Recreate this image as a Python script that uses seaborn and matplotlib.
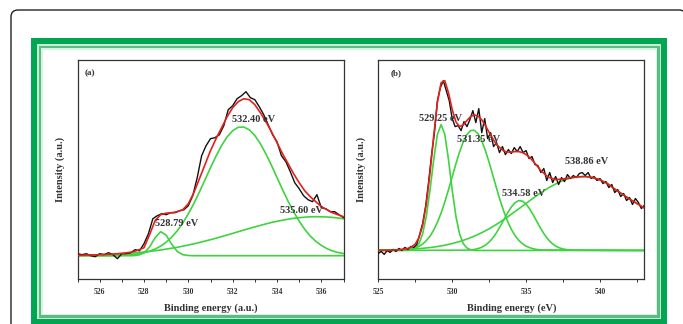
import numpy as np
import matplotlib
matplotlib.use("Agg")
import matplotlib.pyplot as plt
import seaborn as sns
from matplotlib.patches import Rectangle, FancyBboxPatch
from matplotlib.transforms import IdentityTransform
from matplotlib.ticker import MultipleLocator

# ---------------- panel (a) ----------------
a_energy = np.arange(525, 537.01, 0.25)
a_peak1 = [0, 0, 0, 0, 0, 0, 0, 0, 0, 0,
           0, 0.6, 2.8, 8.7, 17.9, 24.0, 20.6, 11.5, 4.2, 1.0, 0.2,
           0, 0, 0, 0, 0, 0, 0, 0, 0, 0, 0, 0, 0, 0,
           0, 0, 0, 0, 0, 0, 0, 0, 0, 0, 0, 0, 0, 0]
a_peak2 = [0, 0, 0, 0, 0, 0, 0, 0.2, 0.4, 0.7, 1.2, 1.9, 2.9, 4.5, 6.6, 9.6,
           13.5, 18.6, 24.9, 32.7, 41.9, 52.3, 63.7, 75.8, 88.0, 99.6, 110.1,
           118.8, 125.0, 128.4, 128.7, 125.9, 120.2, 112.0, 101.8, 90.4, 78.2,
           66.1, 54.5, 43.9, 34.5, 26.4, 19.7, 14.4, 10.3, 7.1, 4.8, 3.2, 2.1]
a_peak3 = [0.4, 0.5, 0.7, 0.8, 1.0, 1.2, 1.4, 1.7, 2.0, 2.3, 2.7, 3.2, 3.7,
           4.3, 5.0, 5.7, 6.6, 7.5, 8.4, 9.5, 10.7, 11.9, 13.2, 14.6, 16.0,
           17.5, 19.1, 20.7, 22.3, 24.0, 25.6, 27.2, 28.8, 30.3, 31.8, 33.2,
           34.4, 35.5, 36.5, 37.4, 38.0, 38.5, 38.9, 39.0, 38.9, 38.7, 38.3,
           37.7, 36.9]
a_fit = [0.4, 0.5, 0.7, 0.8, 1.0, 1.2, 1.4, 1.9, 2.4, 3.0, 3.9,
         5.7, 8, 21, 35, 41, 42.5, 43, 44, 46, 52, 63, 77, 91, 105, 117, 128,
         139, 148, 154, 157, 156, 151, 143, 134, 124, 113, 102, 92, 82, 73,
         65, 59, 54, 49, 46, 43, 41, 39]
a_data_energy = np.arange(525, 537.01, 0.2)
a_data = [2, 1, 2, 0, -1, 2, 1, 3, 1, -3,
          2, 2, 3, 6, 5, 12, 22, 37, 40, 42,
          41, 43, 43, 45, 46, 50, 60, 78, 100, 110,
          117, 118, 121, 130, 146, 150, 157, 160, 164, 158,
          156, 149, 141, 131, 121, 114, 100, 94, 84, 73,
          67, 60, 56, 54, 61, 48, 47, 44, 44, 41, 38]
a_labels = ["528.79 eV", "532.40 eV", "535.60 eV"]
a_label_pos = [(528.5, 32), (531.96, 136), (534.14, 45)]

# ---------------- panel (b) ----------------
b_data_energy = np.arange(525, 543.01, 0.2)
b_data = [-3, -1, -4, 0, -2, 1, -1, 2, 0, 3,
          1, 4, 3, 6, 16, 27, 44, 68, 95, 118,
          150, 163, 170, 160, 150, 132, 124, 125, 120, 129,
          124, 131, 140, 128, 142, 118, 132, 112, 118, 104,
          108, 98, 104, 96, 101, 97, 103, 99, 104, 98,
          100, 92, 94, 86, 85, 78, 82, 70, 78, 68,
          74, 66, 73, 69, 76, 72, 75, 73, 77, 78,
          75, 78, 72, 74, 70, 72, 67, 69, 63, 66,
          58, 61, 54, 57, 50, 53, 46, 52, 48, 42, 45]
b_fit_energy = np.r_[np.arange(525, 527, 0.5), np.arange(527, 536.01, 0.25),
                     np.arange(536.5, 543.01, 0.5)]
b_fit = [0.2, 0.3, 0.5, 0.8,
         2.0, 3.5, 6.4, 12.7, 25.0, 46.6, 77.8, 114.8, 148.2, 168.0, 169.9,
         157.8, 141.2, 128.8, 124.0, 125.6, 130.2, 134.1, 135.7, 134.6, 130.8,
         124.9, 118.2, 111.7, 106.2, 102.5, 99.5, 98.5, 98.5, 99.0, 99.0, 98.0,
         96.0, 93.0, 89.0, 84.5, 80.0,
         73.4, 71.0, 71.5, 72.8, 73.7, 74.0, 73.0, 70.7, 67.0, 61.5, 56.5,
         51.5, 47.0, 42.5]
b_p1_energy = np.r_[525, np.arange(527, 531.76, 0.25), 543]
b_peak1 = [0, 0.1, 0.7, 2.4, 6.8, 16.5, 34.3, 60.6, 91.0, 116.2, 126.0, 116.2,
           91.0, 60.6, 34.3, 16.5, 6.8, 2.4, 0.7, 0.1, 0, 0]
b_p2_energy = np.r_[525, np.arange(527, 536.01, 0.25), 543]
b_peak2 = [0, 0.9, 1.5, 2.5, 4.1, 6.4, 9.8, 14.3, 20.4, 28.1, 37.5, 48.5, 60.8,
           73.7, 86.6, 98.6, 108.7, 116.1, 120.1, 120.3, 116.8, 109.8, 99.9,
           88.1, 75.3, 62.3, 49.9, 38.8, 29.1, 21.2, 15.0, 10.2, 6.8, 4.3, 2.7,
           1.6, 0.9, 0.5, 0]
b_p3_energy = np.r_[525, np.arange(531, 538.26, 0.25), 543]
b_peak3 = [0, 0.25, 0.5, 1.0, 1.8, 3.2, 5.3, 8.4, 12.5, 17.8, 24.1, 30.9, 37.6,
           43.5, 47.8, 49.9, 49.4, 46.5, 41.5, 35.2, 28.4, 21.7, 15.8, 10.9,
           7.1, 4.4, 2.6, 1.5, 0.8, 0.4, 0.2, 0]
b_p4_energy = np.arange(525, 543.01, 0.5)
b_peak4 = [0.2, 0.3, 0.5, 0.7, 1.0, 1.5, 2.1, 2.9, 3.9, 5.2, 6.9, 8.9, 11.4,
           14.3, 17.8, 21.7, 26.1, 31.0, 36.2, 41.6, 47.1, 52.6, 57.8, 62.5,
           66.6, 70.0, 72.4, 73.7, 74.0, 73.0, 70.7, 67.0, 61.5, 56.5, 51.5,
           47.0, 42.5]
b_labels = ["529.25 eV", "531.35 eV", "534.58 eV", "538.86 eV"]
b_label_pos = [(527.76, 132), (530.31, 111), (533.4, 57), (537.65, 89)]

GREEN = "#3fd43f"
RED = "#e3211c"
BLACK = "#111111"

sns.set_theme(style="white")
plt.rcParams["font.family"] = ["Liberation Serif", "DejaVu Serif"]

W, H = 683, 324
fig = plt.figure(figsize=(W / 100, H / 100), dpi=100)
fig.patch.set_facecolor("white")

px = IdentityTransform()
# outer rounded box
fig.add_artist(FancyBboxPatch((11, -30), 675, H - 10 + 30,
                              boxstyle="round,pad=0,rounding_size=7",
                              transform=px, facecolor="white",
                              edgecolor="#222222", linewidth=1.0, zorder=0))
# green frame (layers)
frame = [(0, "#00a651"), (6, "#c9ecd5"), (7.5, "#5cbb82"), (10, "#d8f2e0"),
         (11.5, "white")]
x0, x1, ytop, ybot = 31, 667, H - 38, -1
for inset, col in frame:
    fig.add_artist(Rectangle((x0 + inset, ybot + inset),
                             (x1 - x0) - 2 * inset, (ytop - ybot) - 2 * inset,
                             transform=px, facecolor=col, edgecolor="none",
                             zorder=0.5))

ax_a = fig.add_axes([77.5 / W, 45 / H, 266 / W, 219 / H])
ax_b = fig.add_axes([378.3 / W, 45 / H, 266 / W, 219 / H])


def line(ax, x, y, color, lw, z):
    sns.lineplot(x=x, y=y, ax=ax, color=color, linewidth=lw, zorder=z,
                 estimator=None, sort=False)


for x, y in [(a_energy, a_peak1), (a_energy, a_peak2), (a_energy, a_peak3)]:
    line(ax_a, x, y, GREEN, 1.2, 2)
line(ax_a, a_data_energy, a_data, BLACK, 1.0, 3)
line(ax_a, a_energy, a_fit, RED, 1.2, 4)

for x, y in [(b_p1_energy, b_peak1), (b_p2_energy, b_peak2),
             (b_p3_energy, b_peak3), (b_p4_energy, b_peak4)]:
    line(ax_b, x, y, GREEN, 1.2, 2)
line(ax_b, b_data_energy, b_data, BLACK, 1.0, 3)
line(ax_b, b_fit_energy, b_fit, RED, 1.2, 4)

txt = dict(fontsize=7.5, fontweight="bold", color="#333333", va="center",
           ha="left", zorder=6)
for s, (x, y) in zip(a_labels, a_label_pos):
    ax_a.text(x, y, s, **txt)
for s, (x, y) in zip(b_labels, b_label_pos):
    ax_b.text(x, y, s, **txt)

ax_a.text(0.028, 0.94, "(a)", transform=ax_a.transAxes, fontsize=6.5,
          fontweight="bold", color="#333333", va="center", ha="left")
ax_b.text(0.045, 0.94, "(b)", transform=ax_b.transAxes, fontsize=6.5,
          fontweight="bold", color="#333333", va="center", ha="left")

ax_a.set_xlim(525, 537)
ax_a.set_ylim(-23.3, 195.7)
ax_a.set_xticks([526, 528, 530, 532, 534, 536])
ax_a.xaxis.set_minor_locator(MultipleLocator(1))
ax_a.set_xlabel("Binding energy (a.u.)")

ax_b.set_xlim(525, 543)
ax_b.set_ylim(-28.6, 190.7)
ax_b.set_xticks([525, 530, 535, 540])
ax_b.xaxis.set_minor_locator(MultipleLocator(2.5))
ax_b.set_xlabel("Binding energy (eV)")

for ax in (ax_a, ax_b):
    ax.set_facecolor("white")
    ax.set_yticks([])
    ax.set_ylabel("Intensity (a.u.)", fontsize=7.5, fontweight="bold",
                  color="#333333", labelpad=9)
    ax.xaxis.label.set_fontsize(7.5)
    ax.xaxis.label.set_fontweight("bold")
    ax.xaxis.label.set_color("#333333")
    ax.xaxis.labelpad = 5
    for sp in ax.spines.values():
        sp.set_visible(True)
        sp.set_color("#333333")
        sp.set_linewidth(0.9)
    ax.tick_params(axis="x", which="both", direction="out", bottom=True,
                   top=False, length=2.5, width=0.7, color="#333333",
                   labelsize=5.5, labelcolor="#333333", pad=4)
    for lab in ax.get_xticklabels():
        lab.set_fontweight("bold")
    ax.set_zorder(2)

fig.savefig("out.png", dpi=100, facecolor="white")
